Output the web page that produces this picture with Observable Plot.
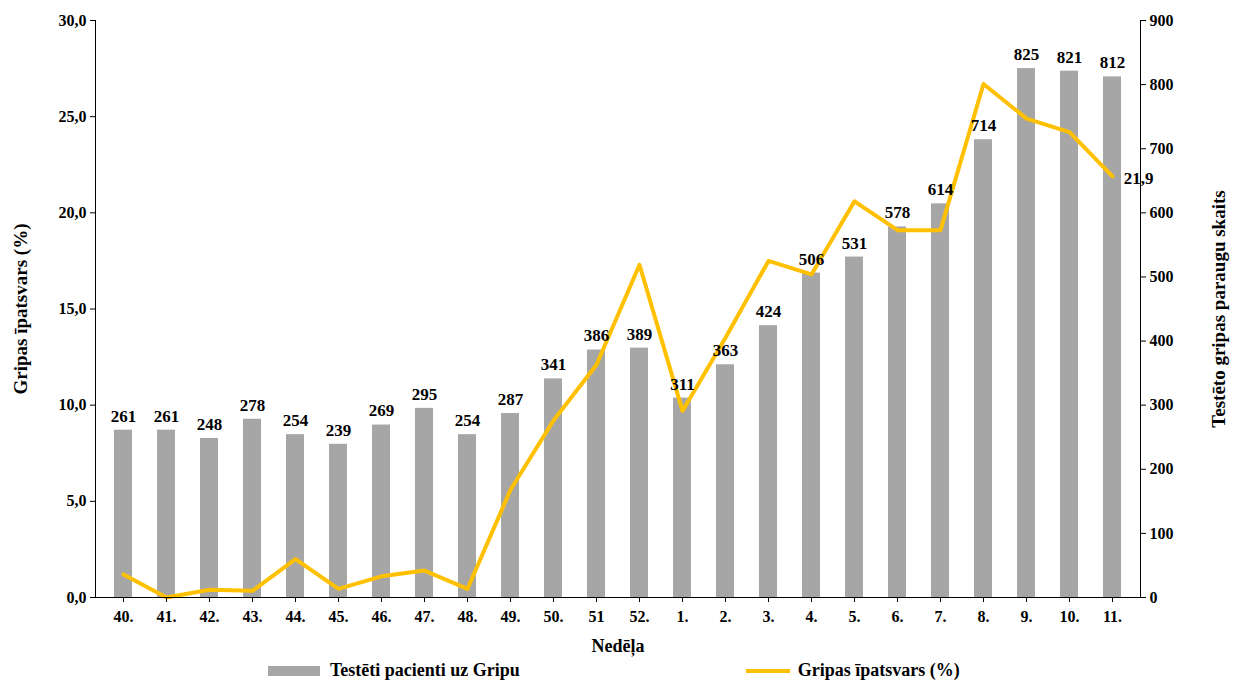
<!DOCTYPE html>
<html><head><meta charset="utf-8">
<script src="https://cdn.jsdelivr.net/npm/d3@7"></script>
<script src="https://cdn.jsdelivr.net/npm/@observablehq/plot@0.6"></script>
<style>
body{margin:0;background:#fff;font-family:"Liberation Serif",serif;font-weight:bold}
#legend{display:flex;gap:0;font-size:18px;margin-top:-4px}
.it{display:flex;align-items:center}
</style></head><body>
<div id="chart"></div>
<div id="legend">
 <div class="it" style="margin-left:268px"><span style="display:inline-block;width:52px;height:10px;background:#a6a6a6;margin-right:10px"></span>Testēti pacienti uz Gripu</div>
 <div class="it" style="margin-left:226px"><span style="display:inline-block;width:44px;height:4px;background:#ffc000;margin-right:8px"></span>Gripas īpatsvars (%)</div>
</div>
<script>
const weeks = ['40.','41.','42.','43.','44.','45.','46.','47.','48.','49.','50.','51','52.','1.','2.','3.','4.','5.','6.','7.','8.','9.','10.','11.']
const tested = [261,261,248,278,254,239,269,295,254,287,341,386,389,311,363,424,506,531,578,614,714,825,821,812]
const share = [1.2,0.0,0.4,0.35,2.0,0.45,1.1,1.4,0.45,5.6,9.2,12.1,17.3,9.7,13.5,17.5,16.8,20.6,19.1,19.1,26.7,24.9,24.2,21.9]
const rightTicks = [0,100,200,300,400,500,600,700,800,900]

const data = weeks.map((w,i) => ({week:w, tested:tested[i], share:share[i]}))
const k = 30/900
const fmt = d3.format('.1f')

const chart = Plot.plot({
  width: 1234, height: 664,
  marginLeft: 95, marginRight: 94, marginTop: 20, marginBottom: 67,
  style: {fontFamily: '"Liberation Serif", serif', fontWeight: 'bold', fontSize: '16px', color: '#000'},
  x: {domain: weeks, paddingInner: 0.58, paddingOuter: 0.26, label: null},
  y: {domain: [0,30], label: null},
  marks: [
    Plot.barY(data, {x: 'week', y: d => d.tested*k, fill: '#a6a6a6'}),
    Plot.line(data, {x: 'week', y: 'share', stroke: '#ffc000', strokeWidth: 4}),
    Plot.text(data, {x: 'week', y: d => d.tested*k, text: d => d.tested, dy: -14, fontSize: 17}),
    Plot.text(data.slice(-1), {x: 'week', y: 'share', text: d => fmt(d.share).replace('.',','), dx: 26, dy: 2, fontSize: 17}),
    Plot.axisY({ticks: d3.range(0,30.1,5), tickFormat: d => fmt(d).replace('.',','), tickSize: 5, label: null, fontSize: 16}),
    Plot.axisY(rightTicks.map(v => v*k), {anchor: 'right', tickFormat: d => Math.round(d/k), tickSize: 5, label: null, fontSize: 16}),
    Plot.axisX({tickSize: 5, fontSize: 16, tickPadding: 8, label: null}),
    Plot.ruleY([0]),
    Plot.frame({anchor: 'left'}),
    Plot.frame({anchor: 'right'}),
    Plot.text(['Gripas īpatsvars (%)'], {frameAnchor: 'left', textAnchor: 'middle', rotate: -90, dx: -75, fontSize: 19}),
    Plot.text(['Testēto gripas paraugu skaits'], {frameAnchor: 'right', textAnchor: 'middle', rotate: -90, dx: 78, fontSize: 19}),
    Plot.text(['Nedēļa'], {frameAnchor: 'bottom', dy: 54, fontSize: 18})
  ]
})
d3.select('#chart').append(() => chart)
</script>
</body></html>
